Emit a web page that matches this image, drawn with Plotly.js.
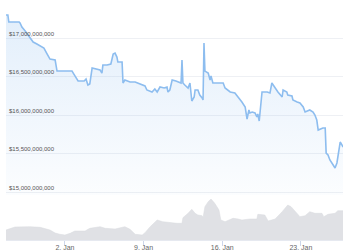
<!DOCTYPE html>
<html>
<head>
<meta charset="utf-8">
<script src="https://cdn.plot.ly/plotly-3.0.1.min.js"></script>
<style>
  html, body { margin: 0; padding: 0; background: #ffffff; }
  #chart { width: 350px; height: 250px; }
</style>
</head>
<body>
<div id="chart"></div>
<script>
// Market cap (billions USD), hourly timestamps
const capTimes = [
  "2022-12-27 18:00","2022-12-27 22:00","2022-12-28 00:00","2022-12-28 11:00","2022-12-28 22:00",
  "2022-12-29 00:00","2022-12-29 04:00","2022-12-29 11:00","2022-12-29 17:00","2022-12-29 21:00",
  "2022-12-30 04:00","2022-12-30 12:00","2022-12-30 19:00","2022-12-31 03:00","2022-12-31 10:00",
  "2022-12-31 16:00","2023-01-01 03:00","2023-01-01 07:00","2023-01-02 00:00","2023-01-02 15:00",
  "2023-01-02 19:00","2023-01-03 04:00","2023-01-03 17:00","2023-01-03 21:00","2023-01-04 01:00",
  "2023-01-04 05:00","2023-01-04 10:00","2023-01-04 18:00","2023-01-05 03:00","2023-01-05 07:00",
  "2023-01-05 09:00","2023-01-05 18:00","2023-01-06 02:00","2023-01-06 07:00","2023-01-06 11:00",
  "2023-01-06 15:00","2023-01-06 17:00","2023-01-07 02:00","2023-01-07 04:00","2023-01-07 08:00",
  "2023-01-07 19:00","2023-01-08 06:00","2023-01-08 12:00","2023-01-08 21:00","2023-01-09 03:00",
  "2023-01-09 07:00","2023-01-09 14:00","2023-01-09 18:00","2023-01-10 00:00","2023-01-10 05:00",
  "2023-01-10 11:00","2023-01-10 20:00","2023-01-11 02:00","2023-01-11 04:00","2023-01-11 08:00",
  "2023-01-11 13:00","2023-01-11 21:00","2023-01-12 06:00","2023-01-12 08:00","2023-01-12 10:00",
  "2023-01-12 12:00","2023-01-12 16:00","2023-01-12 23:00","2023-01-13 03:00","2023-01-13 07:00",
  "2023-01-13 12:00","2023-01-13 14:00","2023-01-13 20:00","2023-01-14 00:00","2023-01-14 05:00",
  "2023-01-14 07:00","2023-01-14 09:00","2023-01-14 11:00","2023-01-14 18:00","2023-01-14 22:00",
  "2023-01-15 00:00","2023-01-15 04:00","2023-01-15 13:00","2023-01-15 21:00","2023-01-16 02:00",
  "2023-01-16 06:00","2023-01-16 12:00","2023-01-16 17:00","2023-01-17 03:00","2023-01-17 10:00",
  "2023-01-17 18:00","2023-01-18 01:00","2023-01-18 05:00","2023-01-18 09:00","2023-01-18 11:00",
  "2023-01-18 16:00","2023-01-18 22:00","2023-01-19 02:00","2023-01-19 04:00","2023-01-19 07:00",
  "2023-01-19 13:00","2023-01-20 00:00","2023-01-20 06:00","2023-01-20 10:00","2023-01-20 17:00",
  "2023-01-20 23:00","2023-01-21 08:00","2023-01-21 10:00","2023-01-21 18:00","2023-01-21 20:00",
  "2023-01-22 05:00","2023-01-22 07:00","2023-01-22 16:00","2023-01-22 22:00","2023-01-23 05:00",
  "2023-01-23 09:00","2023-01-23 19:00","2023-01-24 02:00","2023-01-24 06:00","2023-01-24 10:00",
  "2023-01-24 13:00","2023-01-24 23:00","2023-01-25 04:00","2023-01-25 06:00","2023-01-25 10:00",
  "2023-01-25 14:00","2023-01-25 21:00","2023-01-26 01:00","2023-01-26 05:00","2023-01-26 07:00",
  "2023-01-26 12:00","2023-01-26 16:00","2023-01-26 18:00"
];
const capBillions = [
  17.299,17.299,17.208,17.208,17.208,
  17.195,17.143,17.091,17.039,17.000,
  16.948,16.922,16.896,16.870,16.792,
  16.727,16.714,16.571,16.571,16.571,
  16.532,16.442,16.442,16.468,16.390,
  16.403,16.610,16.597,16.584,16.545,
  16.649,16.649,16.662,16.792,16.805,
  16.753,16.688,16.688,16.416,16.455,
  16.429,16.429,16.416,16.390,16.377,
  16.325,16.312,16.299,16.338,16.299,
  16.364,16.351,16.364,16.299,16.325,
  16.455,16.442,16.416,16.416,16.714,
  16.416,16.390,16.351,16.416,16.182,
  16.234,16.325,16.325,16.260,16.221,
  16.195,16.935,16.571,16.545,16.455,
  16.506,16.416,16.416,16.416,16.416,
  16.351,16.325,16.299,16.286,16.234,
  16.169,16.104,15.948,16.065,16.026,
  16.039,16.026,15.974,16.013,15.922,
  16.299,16.299,16.286,16.416,16.351,
  16.299,16.234,16.325,16.299,16.260,
  16.247,16.195,16.169,16.156,16.104,
  16.039,16.065,16.039,16.000,15.935,
  15.805,15.831,15.831,15.506,15.481,
  15.416,15.351,15.312,15.377,15.442,
  15.649,15.610,15.584
];

// Trading volume (millions USD)
const volTimes = [
  "2022-12-27 18:00","2022-12-28 13:00","2022-12-29 21:00","2022-12-30 19:00","2022-12-31 16:00",
  "2023-01-01 03:00","2023-01-01 13:00","2023-01-02 00:00","2023-01-02 11:00","2023-01-02 21:00",
  "2023-01-03 19:00","2023-01-04 05:00","2023-01-05 03:00","2023-01-05 14:00","2023-01-06 11:00",
  "2023-01-07 08:00","2023-01-07 19:00","2023-01-08 06:00","2023-01-08 21:00","2023-01-09 03:00",
  "2023-01-09 14:00","2023-01-10 05:00","2023-01-10 17:00","2023-01-11 08:00","2023-01-11 23:00",
  "2023-01-12 10:00","2023-01-12 12:00","2023-01-12 23:00","2023-01-13 07:00","2023-01-13 14:00",
  "2023-01-13 20:00","2023-01-14 05:00","2023-01-14 07:00","2023-01-14 11:00","2023-01-14 18:00",
  "2023-01-15 00:00","2023-01-15 08:00","2023-01-15 17:00","2023-01-15 21:00","2023-01-16 06:00",
  "2023-01-16 23:00","2023-01-17 10:00","2023-01-17 18:00","2023-01-18 11:00","2023-01-19 02:00",
  "2023-01-19 04:00","2023-01-19 19:00","2023-01-20 02:00","2023-01-20 17:00","2023-01-21 08:00",
  "2023-01-21 20:00","2023-01-22 03:00","2023-01-22 11:00","2023-01-22 22:00","2023-01-23 09:00",
  "2023-01-23 19:00","2023-01-24 06:00","2023-01-24 21:00","2023-01-25 01:00","2023-01-25 10:00",
  "2023-01-26 01:00","2023-01-26 07:00","2023-01-26 18:00"
];
const volMillions = [
  200,260,266,254,200,
  140,114,100,134,180,
  180,234,266,234,220,
  266,214,114,100,146,
  266,400,366,346,334,
  334,446,534,614,534,
  500,486,446,666,766,
  820,734,600,400,366,
  434,420,400,420,420,
  514,500,380,420,566,
  700,666,580,466,486,
  566,534,534,466,514,
  534,586,586
];

// Axis ticks
const yTickVals = [15e9, 15.5e9, 16e9, 16.5e9, 17e9];
const xTickVals = ["2023-01-02", "2023-01-09", "2023-01-16", "2023-01-23"];
const xTickText = ["2. Jan", "9. Jan", "16. Jan", "23. Jan"];

const capValues = capBillions.map(v => v * 1e9);

const lineColor = "#8dbdef";

const traces = [
  {
    type: "scatter",
    mode: "lines",
    x: capTimes,
    y: capValues,
    xaxis: "x",
    yaxis: "y",
    line: { color: lineColor, width: 1.6 },
    fill: "tozeroy",
    fillgradient: {
      type: "vertical",
      start: 14.96e9,
      stop: 17.3e9,
      colorscale: [[0, "rgba(141,189,239,0.03)"], [1, "rgba(141,189,239,0.25)"]]
    },
    hoverinfo: "skip"
  },
  {
    type: "scatter",
    mode: "lines",
    x: volTimes,
    y: volMillions,
    xaxis: "x",
    yaxis: "y2",
    line: { color: "#d9dbdf", width: 0.5 },
    fill: "tozeroy",
    fillcolor: "#e0e1e5",
    hoverinfo: "skip"
  }
];

const layout = {
  width: 350,
  height: 250,
  margin: { l: 6, r: 7, t: 0, b: 10 },
  paper_bgcolor: "#ffffff",
  plot_bgcolor: "#ffffff",
  showlegend: false,
  font: { family: "Liberation Sans, Arial, sans-serif", color: "#555555" },
  xaxis: {
    type: "date",
    anchor: "y2",
    range: [capTimes[0], capTimes[capTimes.length - 1]],
    tickmode: "array",
    tickvals: xTickVals,
    ticktext: xTickText,
    ticks: "outside",
    ticklen: 5,
    tickwidth: 1,
    tickcolor: "#ccd6eb",
    showgrid: false,
    showline: true,
    linecolor: "#e6e9f0",
    linewidth: 1,
    zeroline: false,
    tickfont: { size: 7, color: "#666666" },
    ticklabelstandoff: -4
  },
  yaxis: {
    domain: [0.1875, 1],
    range: [14.961e9, 17.494e9],
    tickmode: "array",
    tickvals: yTickVals,
    tickformat: "$,.0f",
    ticklabelposition: "inside top",
    tickfont: { size: 6, color: "#555555" },
    showgrid: true,
    gridcolor: "#eef0f4",
    gridwidth: 1,
    zeroline: false,
    showline: false,
    ticks: ""
  },
  yaxis2: {
    domain: [0, 0.175],
    range: [0, 840],
    showgrid: false,
    showticklabels: false,
    zeroline: false,
    showline: false,
    ticks: ""
  }
};

Plotly.newPlot("chart", traces, layout, { staticPlot: true, displayModeBar: false });
</script>
</body>
</html>
